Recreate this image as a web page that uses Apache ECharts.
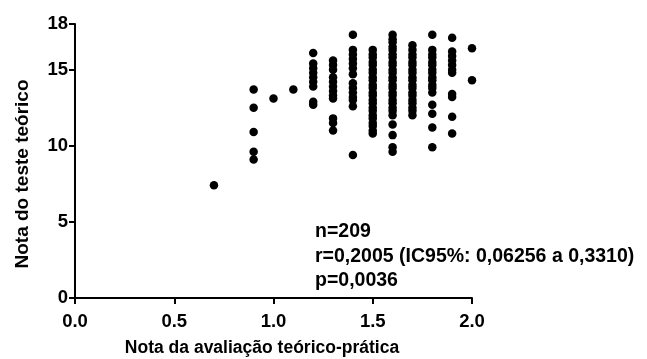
<!DOCTYPE html>
<html>
<head>
<meta charset="utf-8">
<script src="https://cdn.jsdelivr.net/npm/echarts@6/dist/echarts.min.js"></script>
<style>
  html, body { margin: 0; padding: 0; background: #fff; }
  #chart { width: 647px; height: 359px; }
</style>
</head>
<body>
<div id="chart"></div>
<script>
// valores, agrupados pela nota teórico-prática (eixo x)
const xGroups = [0.7, 0.9, 1.0, 1.1, 1.2, 1.3, 1.4, 1.5, 1.6, 1.7, 1.8, 1.9, 2.0];
const yGroups = [
  [7.4],
  [13.7, 12.5, 10.9, 9.6, 9.1],
  [13.1],
  [13.7],
  [16.1, 15.4, 15.1, 14.8, 14.5, 14.2, 13.9, 12.9, 12.7],
  [15.6, 15.3, 15.0, 14.5, 14.2, 13.9, 13.6, 13.3, 13.1, 11.8, 11.5, 11.0],
  [17.3, 16.3, 16.0, 15.7, 15.4, 15.1, 14.7, 14.1, 13.8, 13.5, 13.2, 13.0, 12.6, 9.4],
  [16.3, 16.0, 15.8, 15.5, 15.3, 15.0, 14.8, 14.5, 14.3, 14.0, 13.8, 13.5, 13.3, 13.0, 12.8, 12.5, 12.3, 12.0, 11.8, 11.5, 11.3, 11.0, 10.8],
  [17.3, 17.0, 16.8, 16.5, 16.3, 16.0, 15.8, 15.5, 15.3, 15.0, 14.8, 14.5, 14.3, 14.0, 13.8, 13.5, 13.3, 13.0, 12.8, 12.5, 12.3, 12.0, 11.4, 10.7, 9.9, 9.6],
  [16.6, 16.3, 16.0, 15.8, 15.5, 15.3, 15.0, 14.8, 14.5, 14.3, 14.0, 13.8, 13.5, 13.3, 13.0, 12.8, 12.5, 12.3, 12.0],
  [17.3, 16.3, 16.0, 15.8, 15.5, 15.3, 15.0, 14.8, 14.5, 14.3, 14.0, 13.8, 13.5, 12.7, 12.1, 11.2, 9.9],
  [17.1, 16.2, 15.9, 15.6, 15.3, 15.0, 14.8, 13.4, 13.2, 11.9, 10.8],
  [16.4, 14.3]
];
const yTicks = [0, 5, 10, 15, 18];
const statsLines = ['n=209', 'r=0,2005 (IC95%: 0,06256 a 0,3310)', 'p=0,0036'];
const xTitle = 'Nota da avaliação teórico-prática';
const yTitle = 'Nota do teste teórico';

const points = [];
xGroups.forEach(function (x, i) {
  yGroups[i].forEach(function (y) { points.push([x, y]); });
});

const font = 'Liberation Sans, Arial, sans-serif';
const chart = echarts.init(document.getElementById('chart'));

// textos livres: estatísticas e títulos dos eixos
const texts = statsLines.map(function (t, i) {
  return {
    type: 'text', x: 315, y: 232 + i * 24.3,
    style: { text: t, fill: '#000', font: 'bold 19.5px ' + font, align: 'left', verticalAlign: 'middle' }
  };
});
texts.push({
  type: 'text', x: 262, y: 348,
  style: { text: xTitle, fill: '#000', font: 'bold 17.5px ' + font, align: 'center', verticalAlign: 'middle' }
});
texts.push({
  type: 'text', x: 23, y: 174, rotation: Math.PI / 2,
  style: { text: yTitle, fill: '#000', font: 'bold 19px ' + font, align: 'center', verticalAlign: 'middle' }
});

chart.setOption({
  animation: false,
  grid: { left: 75, right: 175, top: 24, bottom: 61 },
  xAxis: {
    type: 'value', min: 0, max: 2, interval: 0.5,
    splitLine: { show: false },
    axisLine: { lineStyle: { color: '#000', width: 2 } },
    axisTick: { show: true, length: 6, lineStyle: { color: '#000', width: 2 } },
    axisLabel: {
      color: '#000', fontWeight: 'bold', fontSize: 18.5, fontFamily: font, margin: 14,
      formatter: function (v) { return v.toFixed(1); }
    }
  },
  yAxis: {
    type: 'value', min: 0, max: 18,
    splitLine: { show: false },
    axisLine: { show: true, lineStyle: { color: '#000', width: 2 } },
    axisTick: { show: true, length: 6, customValues: yTicks, lineStyle: { color: '#000', width: 2 } },
    axisLabel: {
      color: '#000', fontWeight: 'bold', fontSize: 18.5, fontFamily: font, margin: 7,
      customValues: yTicks
    }
  },
  graphic: texts,
  series: [{
    type: 'scatter',
    data: points,
    symbolSize: 8.5,
    itemStyle: { color: '#000', opacity: 1 }
  }]
});
</script>
</body>
</html>
